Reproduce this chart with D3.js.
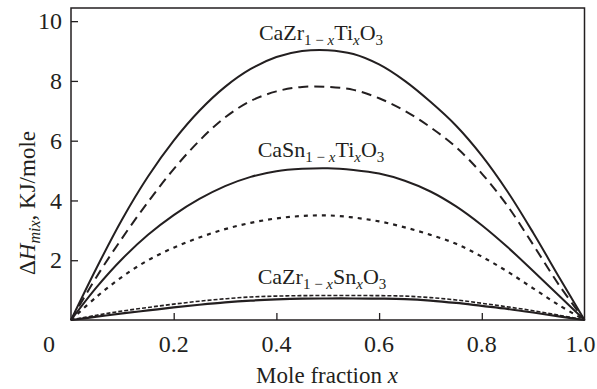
<!DOCTYPE html>
<html><head><meta charset="utf-8">
<script src="https://cdn.jsdelivr.net/npm/d3@7"></script>
<style>
html,body{margin:0;padding:0;background:#fff;}
svg{font-family:"Liberation Serif","Times New Roman",Tinos,Times,"DejaVu Serif","Noto Serif",FreeSerif,serif;}
svg text{fill:#231f20;}
</style></head>
<body><svg id="c" width="597" height="389"></svg>
<script>
// Mole fraction x
const moleFraction = [0,0.05,0.1,0.15,0.2,0.25,0.3,0.35,0.4,0.45,0.5,0.55,0.6,0.65,0.7,0.75,0.8,0.85,0.9,0.95,1];
// CaZr(1-x)Ti(x)O3 — solid and dashed
const zrTiSolid  = [0,1.75,3.38,4.8,6.0,7.0,7.8,8.4,8.8,9.0,9.03,8.9,8.55,8.0,7.3,6.5,5.5,4.3,2.92,1.45,0];
const zrTiDashed = [0,1.45,2.75,3.95,5.05,6.0,6.78,7.33,7.65,7.8,7.8,7.7,7.42,7.0,6.45,5.78,4.9,3.82,2.52,1.18,0];
// CaSn(1-x)Ti(x)O3 — solid and dotted
const snTiSolid  = [0,1.1,2.05,2.85,3.51,4.05,4.48,4.79,4.98,5.06,5.08,5.02,4.9,4.66,4.3,3.8,3.17,2.44,1.64,0.82,0];
const snTiDotted = [0,0.78,1.45,2.0,2.42,2.76,3.04,3.25,3.4,3.48,3.5,3.43,3.3,3.1,2.85,2.55,2.12,1.62,1.06,0.5,0];
// CaZr(1-x)Sn(x)O3 — solid and dashed
const zrSnSolid  = [0,0.11,0.22,0.32,0.42,0.51,0.59,0.65,0.69,0.715,0.72,0.72,0.715,0.7,0.65,0.57,0.47,0.37,0.25,0.12,0];
const zrSnDashed = [0,0.16,0.3,0.42,0.53,0.63,0.71,0.77,0.8,0.815,0.82,0.82,0.815,0.8,0.75,0.67,0.56,0.44,0.31,0.16,0];

const xTicks = [0.2,0.4,0.6,0.8,1.0];
const xTickLabels = ["0.2","0.4","0.6","0.8","1.0"];
const yTicks = [2,4,6,8,10];

const svg = d3.select("#c");
const L=71, R=584.5, B=320, T=8;
const x = d3.scaleLinear().domain([0,1]).range([L,R]);
const y = d3.scaleLinear().domain([0,10.44]).range([B,T]);
const ink = "#231f20";

const series = [
  {v: zrTiSolid,  w:2.0, dash:null},
  {v: zrTiDashed, w:2.0, dash:"10,6"},
  {v: snTiSolid,  w:2.0, dash:null},
  {v: snTiDotted, w:2.2, dash:"4,5"},
  {v: zrSnSolid,  w:2.2, dash:null},
  {v: zrSnDashed, w:1.6, dash:"4,2"}
];
const line = d3.line().x((d,i)=>x(moleFraction[i])).y(d=>y(d)).curve(d3.curveCatmullRom.alpha(0.5));
series.forEach(s=>{
  svg.append("path").attr("d", line(s.v)).attr("fill","none").attr("stroke",ink)
    .attr("stroke-width", s.w).attr("stroke-dasharray", s.dash);
});

// frame
svg.append("rect").attr("x",L).attr("y",T).attr("width",R-L).attr("height",B-T)
  .attr("fill","none").attr("stroke",ink).attr("stroke-width",1.5);

// axes (inward ticks)
const yAxis = svg.append("g").attr("transform",`translate(${L},0)`)
  .call(d3.axisRight(y).tickValues(yTicks).tickSize(7).tickFormat(""));
yAxis.select(".domain").remove();
yAxis.selectAll("line").attr("stroke",ink).attr("stroke-width",1.3);
const xAxis = svg.append("g").attr("transform",`translate(0,${B})`)
  .call(d3.axisTop(x).tickValues(xTicks.slice(0,4)).tickSize(7).tickFormat(""));
xAxis.select(".domain").remove();
xAxis.selectAll("line").attr("stroke",ink).attr("stroke-width",1.3);

// tick labels
svg.selectAll(".yl").data(yTicks).enter().append("text")
  .attr("x",62).attr("y",d=>y(d)).attr("dy","0.34em").attr("text-anchor","end")
  .attr("font-size",24).text(d=>d);
svg.selectAll(".xl").data(xTicks).enter().append("text")
  .attr("x",(d,i)=> i===4 ? x(d)-4 : x(d)).attr("y",352).attr("text-anchor","middle")
  .attr("font-size",24).text((d,i)=>xTickLabels[i]);
svg.append("text").attr("x",49).attr("y",352).attr("text-anchor","middle").attr("font-size",24).text("0");

// axis titles
const xt = svg.append("text").attr("x",327).attr("y",383).attr("text-anchor","middle").attr("font-size",23);
xt.append("tspan").text("Mole fraction ");
xt.append("tspan").attr("font-style","italic").text("x");

const yt = svg.append("text").attr("transform","translate(35,203) rotate(-90)").attr("text-anchor","middle").attr("font-size",23);
yt.append("tspan").text("Δ");
yt.append("tspan").attr("font-style","italic").text("H");
yt.append("tspan").attr("font-style","italic").attr("font-size",16).attr("dy",5).text("mix");
yt.append("tspan").attr("dy",-5).text(", KJ/mole");

// annotations
function formula(cx, by, a, b){
  const t = svg.append("text").attr("x",cx).attr("y",by).attr("text-anchor","middle").attr("font-size",22);
  t.append("tspan").text(a);
  t.append("tspan").attr("font-size",15).attr("dy",5).text("1 − ");
  t.append("tspan").attr("font-size",15).attr("font-style","italic").text("x");
  t.append("tspan").attr("dy",-5).text(b);
  t.append("tspan").attr("font-size",15).attr("font-style","italic").attr("dy",5).text("x");
  t.append("tspan").attr("dy",-5).text("O");
  t.append("tspan").attr("font-size",15).attr("dy",5).text("3");
}
formula(321, 40, "CaZr", "Ti");
formula(321, 157, "CaSn", "Ti");
formula(322, 284, "CaZr", "Sn");
</script></body></html>
